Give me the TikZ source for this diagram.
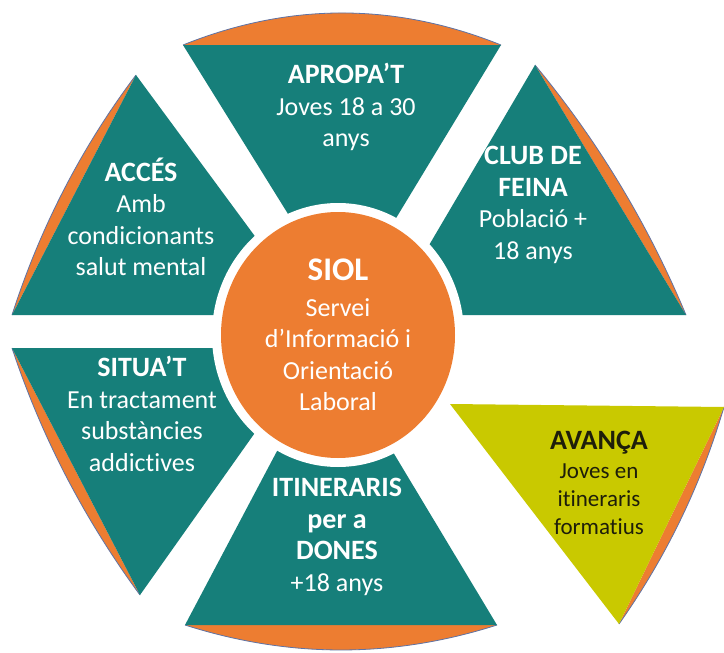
\documentclass[tikz,border=0pt]{standalone}
\usepackage{fontspec}
\setmainfont{Carlito}[Ligatures=NoCommon]
\usetikzlibrary{shapes.geometric}
\definecolor{tealc}{RGB}{22,127,122}
\definecolor{orng}{RGB}{237,125,49}
\definecolor{ygrn}{RGB}{201,201,0}
\definecolor{rimc}{RGB}{95,115,165}
\definecolor{darktxt}{RGB}{30,30,10}
\tikzset{
  piece/.style={fill=tealc},
  ypiece/.style={fill=ygrn},
  capfill/.style={fill=orng},
  rimline/.style={draw=rimc, line width=0.8pt},
  lbl/.style={align=center, text=white, inner sep=0pt, font=\fontsize{26}{31.5}\selectfont},
  albl/.style={align=center, text=darktxt, inner sep=0pt, font=\fontsize{23}{28}\selectfont},
}
\newcommand{\ttl}[1]{{\fontsize{28}{31.5}\selectfont\bfseries #1}}
\begin{document}
\begin{tikzpicture}[x=1pt,y=-1pt]
\fill[white] (0,0) rectangle (724,653);
\useasboundingbox (0,0) rectangle (724,653);

% orange caps
\fill[capfill] (183,45) .. controls (289,2.3) and (395,2.3) .. (501,45) -- cycle;
\draw[rimline] (183,45) .. controls (289,2.3) and (395,2.3) .. (501,45);
\fill[capfill] (535,65) .. controls (598,141) and (648,224) .. (686,315) -- cycle;
\draw[rimline] (535,65) .. controls (598,141) and (648,224) .. (686,315);
\fill[capfill] (136,75) .. controls (81,148) and (40,228) .. (12,315) -- cycle;
\draw[rimline] (136,75) .. controls (81,148) and (40,228) .. (12,315);
\fill[capfill] (12,348) .. controls (41.5,437) and (84.5,519.5) .. (140,595) -- cycle;
\draw[rimline] (12,348) .. controls (41.5,437) and (84.5,519.5) .. (140,595);
\fill[capfill] (185,625) .. controls (289,658.3) and (393,658.3) .. (497,625) -- cycle;
\draw[rimline] (185,625) .. controls (289,658.3) and (393,658.3) .. (497,625);
\fill[capfill] (724,407) .. controls (701,485.1) and (666,557.5) .. (619,624) -- cycle;
\draw[rimline] (724,407) .. controls (701,485.1) and (666,557.5) .. (619,624);

% triangles
\fill[piece] (183,45) -- (501,45) -- (344,304) -- cycle;
\fill[piece] (535,65) -- (686,315) -- (388,315) -- cycle;
\fill[piece] (136,75) -- (313,315) -- (12,315) -- cycle;
\fill[piece] (12,348) -- (315,348) -- (140,595) -- cycle;
\fill[piece] (185,625) -- (497,625) -- (331,349) -- cycle;
\fill[ypiece] (450,404) -- (724,407) -- (619,624) -- cycle;

% centre
\fill[white] (338,335) ellipse [x radius=126pt, y radius=132pt];
\node[ellipse, fill=orng, minimum width=234pt, minimum height=246pt, lbl] (siol) at (338,335)
  {{\fontsize{33}{31}\selectfont\bfseries SIOL}\\[4pt]Servei\\d’Informació i\\Orientació\\Laboral};

% labels
\node[lbl] (apropat) at (346,107) {\ttl{APROPA’T}\\Joves 18 a 30\\anys};
\node[lbl] (acces) at (141,217) {\ttl{ACCÉS}\\Amb\\condicionants\\salut mental};
\node[lbl] (club) at (533,205) {\ttl{CLUB DE}\\\ttl{FEINA}\\Població +\\18 anys};
\node[lbl] (situat) at (142,414) {\ttl{SITUA’T}\\En tractament\\substàncies\\addictives};
\node[lbl] (itin) at (337,537) {\ttl{ITINERARIS}\\\ttl{per a}\\\ttl{DONES}\\+18 anys};
\node[albl] (avanca) at (599,483) {{\fontsize{28}{28}\selectfont\bfseries AVANÇA}\\[1.5pt]Joves en\\itineraris\\formatius};
\end{tikzpicture}
\end{document}
